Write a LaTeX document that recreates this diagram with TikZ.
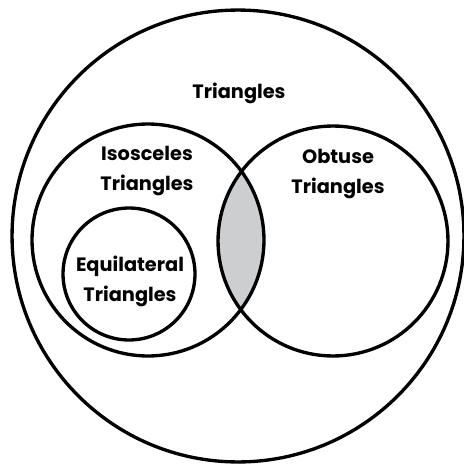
\documentclass[tikz,border=0pt]{standalone}
\usepackage{fontspec}
\setmainfont{Poppins}[BoldFont={* Bold}]
\usepackage{tikz}
\definecolor{Lens}{HTML}{CDCED0}
\tikzset{
  setcircle/.style={circle, draw=black, line width=1.9pt, inner sep=0pt},
  setlabel/.style={align=center, font=\bfseries\fontsize{11}{17}\selectfont, inner sep=0pt}
}

\begin{document}
\begin{tikzpicture}[x=0.02cm, y=-0.02cm]
  \useasboundingbox (0,0) rectangle (463,466);
  \coordinate (allc) at (238,236);
  \coordinate (isoc) at (148,240);
  \coordinate (obtc) at (333,241);
  \coordinate (equc) at (129,274);

  % shaded overlap of the two sets
  \begin{scope}
    \clip (isoc) circle [radius=2.32cm];
    \fill[Lens] (obtc) circle [radius=2.30cm];
  \end{scope}

  \node[setcircle, minimum size=9.04cm] (all) at (allc) {};
  \node[setcircle, minimum size=4.64cm] (iso) at (isoc) {};
  \node[setcircle, minimum size=4.60cm] (obt) at (obtc) {};
  \node[setcircle, minimum size=2.64cm] (equ) at (equc) {};

  \node[setlabel] (alllabel) at (239,93) {Triangles};
  \node[setlabel] (isolabel) at (147,171) {Isosceles\\Triangles};
  \node[setlabel] (obtlabel) at (338,174) {Obtuse\\Triangles};
  \node[setlabel] (equlabel) at (130,281) {Equilateral\\Triangles};
\end{tikzpicture}
\end{document}
